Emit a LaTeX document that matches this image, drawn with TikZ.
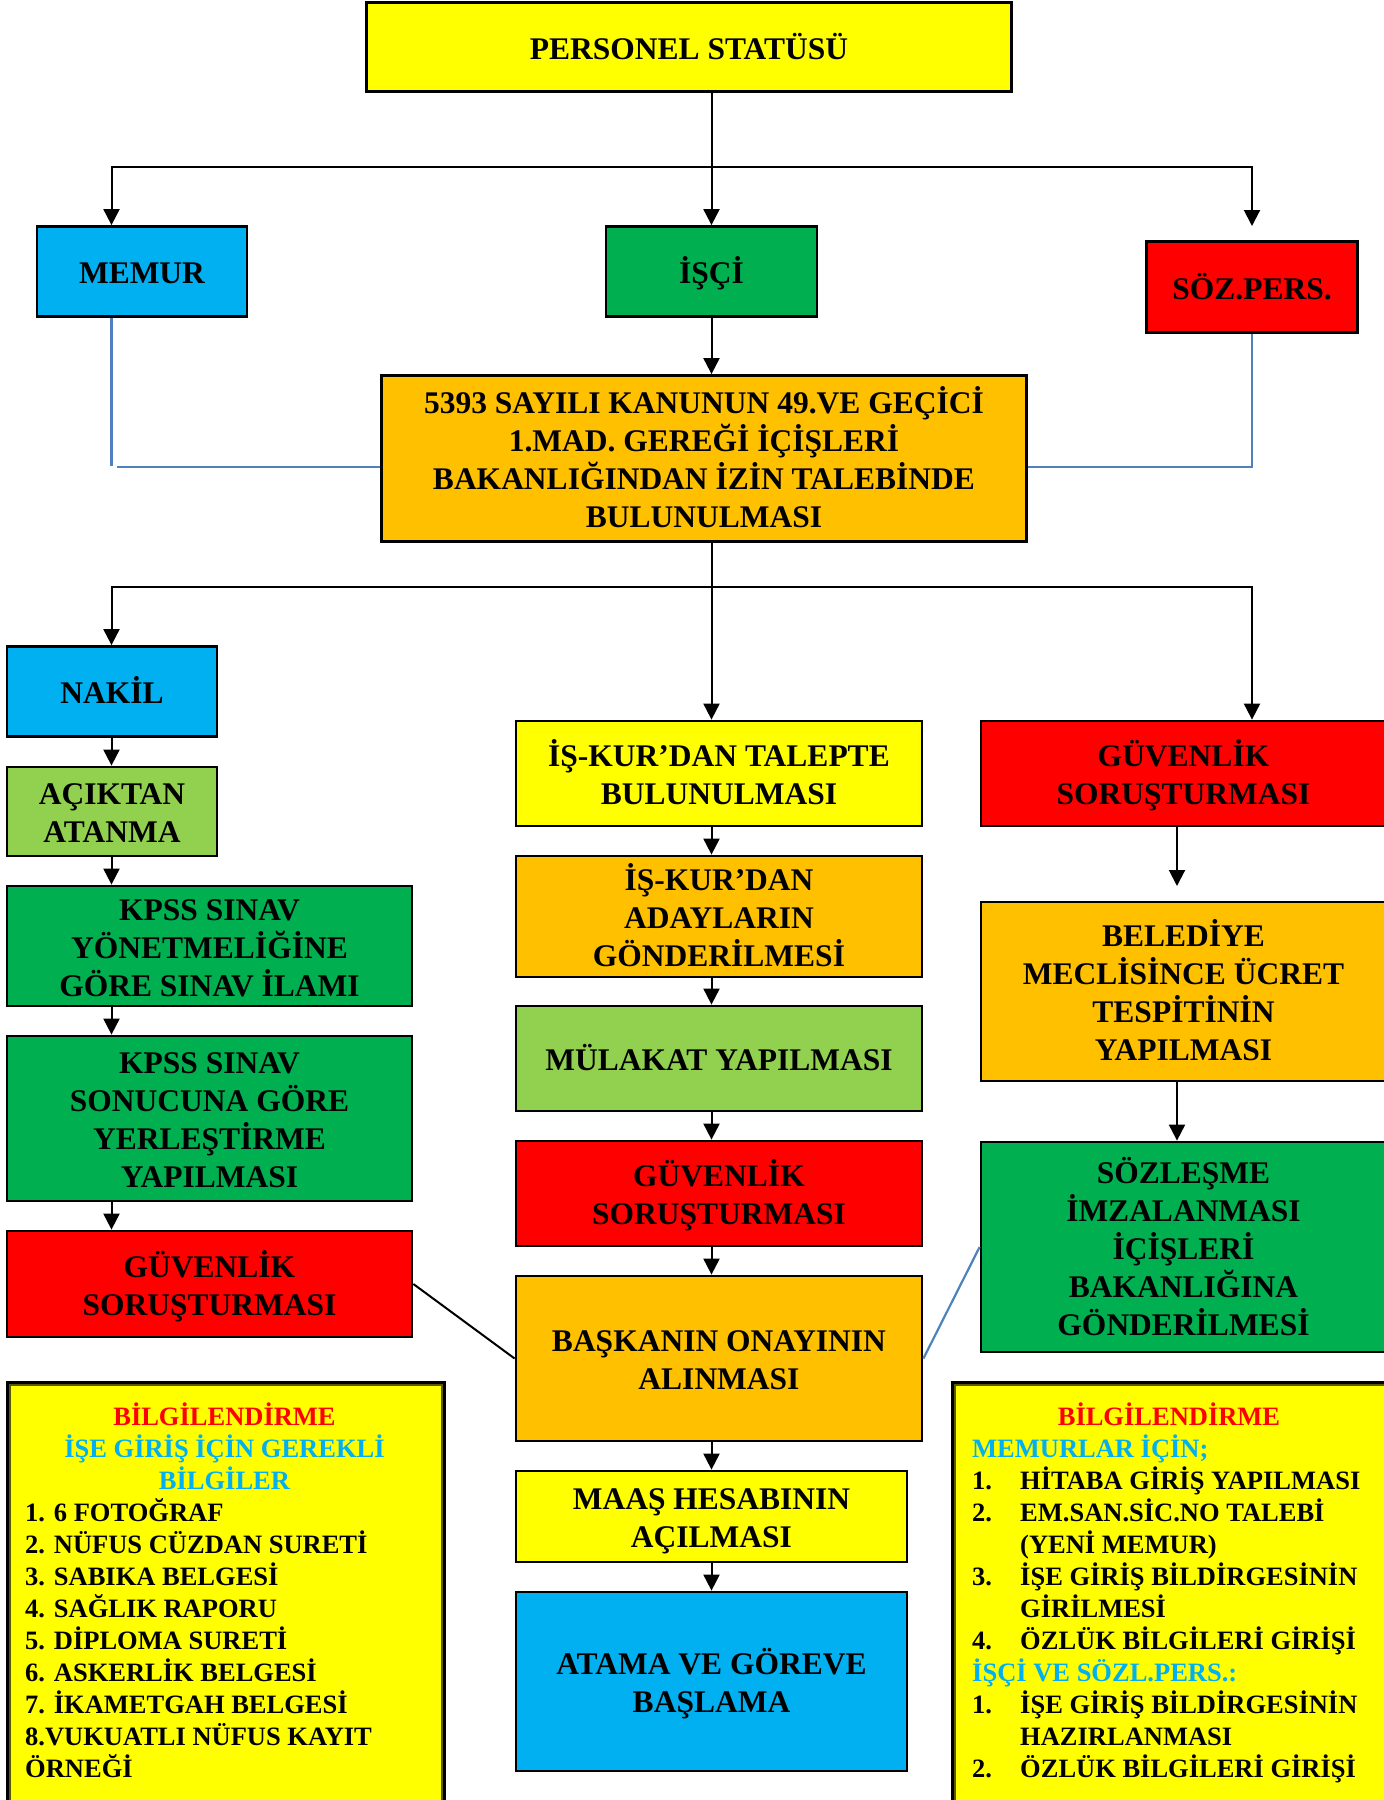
\documentclass[tikz,border=0pt]{standalone}
\usepackage{fontspec}
\setmainfont{Liberation Serif}
\usetikzlibrary{arrows.meta}
\definecolor{cyanbox}{HTML}{00B0F0}
\definecolor{greenbox}{HTML}{00B050}
\definecolor{redbox}{HTML}{FF0000}
\definecolor{orangebox}{HTML}{FFC000}
\definecolor{lgreenbox}{HTML}{92D050}
\definecolor{yellowbox}{HTML}{FFFF00}
\definecolor{blueline}{HTML}{4F81BD}
\definecolor{innerolive}{HTML}{5A5A00}
\newcommand{\ST}{\rule{0pt}{31pt}}
\newcommand{\SB}{\rule[-7pt]{0pt}{0pt}}
\tikzset{
  box/.style={draw=black, line width=2.8pt, align=center, inner sep=0pt,
    font=\bfseries\fontsize{31.5}{38}\selectfont},
  arr/.style={line width=2pt, line cap=rect, -{Triangle[length=16pt,width=16pt]}},
  ln/.style={line width=2pt, line cap=rect},
  bln/.style={draw=blueline, line width=2.2pt},
  infobox/.style={draw=black, fill=yellowbox, line width=3pt, inner sep=0pt, anchor=north west},
  info/.style={font=\bfseries\fontsize{26.5}{32}\selectfont, inner sep=0pt},
}
\begin{document}
\begin{tikzpicture}[x=1pt,y=-1pt]
\useasboundingbox (0,0) rectangle (1384,1800);
% top level
\node[box, fill=yellowbox, minimum width=645pt, minimum height=89pt] (ps) at (689,47) {\ST PERSONEL STATÜSÜ\SB};
\node[box, fill=cyanbox, minimum width=210pt, minimum height=90pt] (memur) at (142,271.5) {\ST MEMUR\SB};
\node[box, fill=greenbox, minimum width=211pt, minimum height=90pt] (isci) at (711.5,271.5) {\ST İŞÇİ\SB};
\node[box, fill=redbox, minimum width=211pt, minimum height=91pt] (soz) at (1252,287) {\ST SÖZ.PERS.\SB};
\node[box, fill=orangebox, minimum width=645pt, minimum height=166pt] (kanun) at (704,458.5)
  {\ST 5393 SAYILI KANUNUN 49.VE GEÇİCİ\\1.MAD. GEREĞİ İÇİŞLERİ\\BAKANLIĞINDAN İZİN TALEBİNDE\\BULUNULMASI\SB};
% left column
\node[box, fill=cyanbox, minimum width=210pt, minimum height=90pt] (nakil) at (112,691.5) {\ST NAKİL\SB};
\node[box, fill=lgreenbox, minimum width=210pt, minimum height=89pt] (acik) at (112,811.5) {\ST AÇIKTAN\\ATANMA\SB};
\node[box, fill=greenbox, minimum width=405pt, minimum height=120pt] (kpss1) at (209.5,946) {\ST KPSS SINAV\\YÖNETMELİĞİNE\\GÖRE SINAV İLAMI\SB};
\node[box, fill=greenbox, minimum width=405pt, minimum height=165pt] (kpss2) at (209.5,1118.5) {\ST KPSS SINAV\\SONUCUNA GÖRE\\YERLEŞTİRME\\YAPILMASI\SB};
\node[box, fill=redbox, minimum width=405pt, minimum height=106pt] (guvL) at (209.5,1284) {\ST GÜVENLİK\\SORUŞTURMASI\SB};
% middle column
\node[box, fill=yellowbox, minimum width=406pt, minimum height=105pt] (iskur1) at (719,773.5) {\ST İŞ-KUR’DAN TALEPTE\\BULUNULMASI\SB};
\node[box, fill=orangebox, minimum width=406pt, minimum height=121pt] (iskur2) at (719,916.5) {\ST İŞ-KUR’DAN\\ADAYLARIN\\GÖNDERİLMESİ\SB};
\node[box, fill=lgreenbox, minimum width=406pt, minimum height=105pt] (mulakat) at (719,1058.5) {\ST MÜLAKAT YAPILMASI\SB};
\node[box, fill=redbox, minimum width=406pt, minimum height=105pt] (guvM) at (719,1193.5) {\ST GÜVENLİK\\SORUŞTURMASI\SB};
\node[box, fill=orangebox, minimum width=406pt, minimum height=165pt] (baskan) at (719,1358.5) {\ST BAŞKANIN ONAYININ\\ALINMASI\SB};
\node[box, fill=yellowbox, minimum width=391pt, minimum height=91pt] (maas) at (711.5,1516.5) {\ST MAAŞ HESABININ\\AÇILMASI\SB};
\node[box, fill=cyanbox, minimum width=391pt, minimum height=179pt] (atama) at (711.5,1681.5) {\ST ATAMA VE GÖREVE\\BAŞLAMA\SB};
% right column
\node[box, fill=redbox, minimum width=405pt, minimum height=105pt] (guvR) at (1183.5,773.5) {\ST GÜVENLİK\\SORUŞTURMASI\SB};
\node[box, fill=orangebox, minimum width=405pt, minimum height=179pt] (beled) at (1183.5,991.5) {\ST BELEDİYE\\MECLİSİNCE ÜCRET\\TESPİTİNİN\\YAPILMASI\SB};
\node[box, fill=greenbox, minimum width=405pt, minimum height=210pt] (sozl) at (1183.5,1247) {\ST SÖZLEŞME\\İMZALANMASI\\İÇİŞLERİ\\BAKANLIĞINA\\GÖNDERİLMESİ\SB};

% connectors top
\coordinate (hL) at (111.5,167);
\coordinate (hR) at (1252,167);
\coordinate (sozTip) at (1252,226);
\draw[ln] (hL) -- (hR);
\draw[arr] (hL) -- (hL |- memur.north);
\draw[arr] (hR) -- (sozTip);
\draw[arr] (ps.south -| isci.north) -- (isci.north);
\draw[arr] (isci.south) -- (isci.south |- kanun.north);
% blue lines
\coordinate (bL1) at (111.5,466);
\coordinate (bL2) at (117,467);
\draw[bln] (memur.south -| hL) -- (bL1);
\draw[bln] (bL2) -- (kanun.west |- bL2);
\draw[bln] (soz.south) -- (soz.south |- bL2) -- (kanun.east |- bL2);
% second split
\coordinate (h2L) at (111.5,587);
\coordinate (h2R) at (1252,587);
\draw[ln] (h2L) -- (h2R);
\draw[arr] (kanun.south -| isci.south) -- (iskur1.north -| isci.south);
\draw[arr] (h2L) -- (h2L |- nakil.north);
\draw[arr] (h2R) -- (h2R |- guvR.north);
% left column arrows
\draw[arr] (nakil.south -| h2L) -- (acik.north -| h2L);
\draw[arr] (acik.south -| h2L) -- (kpss1.north -| h2L);
\draw[arr] (kpss1.south -| h2L) -- (kpss2.north -| h2L);
\draw[arr] (kpss2.south -| h2L) -- (guvL.north -| h2L);
% middle column arrows
\draw[arr] (iskur1.south -| isci.south) -- (iskur2.north -| isci.south);
\draw[arr] (iskur2.south -| isci.south) -- (mulakat.north -| isci.south);
\draw[arr] (mulakat.south -| isci.south) -- (guvM.north -| isci.south);
\draw[arr] (guvM.south -| isci.south) -- (baskan.north -| isci.south);
\draw[arr] (baskan.south -| isci.south) -- (maas.north -| isci.south);
\draw[arr] (maas.south -| isci.south) -- (atama.north -| isci.south);
% right column arrows
\coordinate (rx) at (1177,0);
\coordinate (belTip) at (1177,886);
\draw[arr] (guvR.south -| rx) -- (belTip);
\draw[arr] (beled.south -| rx) -- (sozl.north -| rx);
% diagonal links
\draw[line width=2pt] (guvL.east) -- (baskan.west);
\draw[bln] (baskan.east) -- (sozl.west);

% info boxes
\node[infobox, minimum width=437pt, minimum height=432pt] (infoL) at (6,1381) {};
\draw[innerolive, line width=1.2pt] ([shift={(4,4)}]infoL.north west) rectangle ([shift={(-4,0)}]infoL.south east);
\node[infobox, minimum width=440pt, minimum height=432pt] (infoR) at (951,1381) {};
\draw[innerolive, line width=1.2pt] ([shift={(4,4)}]infoR.north west) rectangle ([shift={(-4,0)}]infoR.south east);

\node[info, text=red, anchor=base] (l0) at (224.5,1425) {BİLGİLENDİRME};
\node[info, text=cyanbox, anchor=base] (l1) at (224.5,1457) {İŞE GİRİŞ İÇİN GEREKLİ};
\node[info, text=cyanbox, anchor=base] (l2) at (224.5,1489) {BİLGİLER};
\node[info, anchor=base west] (l3) at (25,1521) {1. 6 FOTOĞRAF};
\node[info, anchor=base west] (l4) at (25,1553) {2. NÜFUS CÜZDAN SURETİ};
\node[info, anchor=base west] (l5) at (25,1585) {3. SABIKA BELGESİ};
\node[info, anchor=base west] (l6) at (25,1617) {4. SAĞLIK RAPORU};
\node[info, anchor=base west] (l7) at (25,1649) {5. DİPLOMA SURETİ};
\node[info, anchor=base west] (l8) at (25,1681) {6. ASKERLİK BELGESİ};
\node[info, anchor=base west] (l9) at (25,1713) {7. İKAMETGAH BELGESİ};
\node[info, anchor=base west] (l10) at (25,1745) {8.VUKUATLI NÜFUS KAYIT};
\node[info, anchor=base west] (l11) at (25,1777) {ÖRNEĞİ};

\node[info, text=red, anchor=base] (r0) at (1169,1425) {BİLGİLENDİRME};
\node[info, text=cyanbox, anchor=base west] (r1) at (972,1457) {MEMURLAR İÇİN;};
\node[info, anchor=base west] (r2n) at (972,1489) {1.};
\node[info, anchor=base west] (r2) at (1020,1489) {HİTABA GİRİŞ YAPILMASI};
\node[info, anchor=base west] (r3n) at (972,1521) {2.};
\node[info, anchor=base west] (r3) at (1020,1521) {EM.SAN.SİC.NO TALEBİ};
\node[info, anchor=base west] (r4) at (1020,1553) {(YENİ MEMUR)};
\node[info, anchor=base west] (r5n) at (972,1585) {3.};
\node[info, anchor=base west] (r5) at (1020,1585) {İŞE GİRİŞ BİLDİRGESİNİN};
\node[info, anchor=base west] (r6) at (1020,1617) {GİRİLMESİ};
\node[info, anchor=base west] (r7n) at (972,1649) {4.};
\node[info, anchor=base west] (r7) at (1020,1649) {ÖZLÜK BİLGİLERİ GİRİŞİ};
\node[info, text=cyanbox, anchor=base west] (r8) at (972,1681) {İŞÇİ VE SÖZL.PERS.:};
\node[info, anchor=base west] (r9n) at (972,1713) {1.};
\node[info, anchor=base west] (r9) at (1020,1713) {İŞE GİRİŞ BİLDİRGESİNİN};
\node[info, anchor=base west] (r10) at (1020,1745) {HAZIRLANMASI};
\node[info, anchor=base west] (r11n) at (972,1777) {2.};
\node[info, anchor=base west] (r11) at (1020,1777) {ÖZLÜK BİLGİLERİ GİRİŞİ};
\end{tikzpicture}
\end{document}
